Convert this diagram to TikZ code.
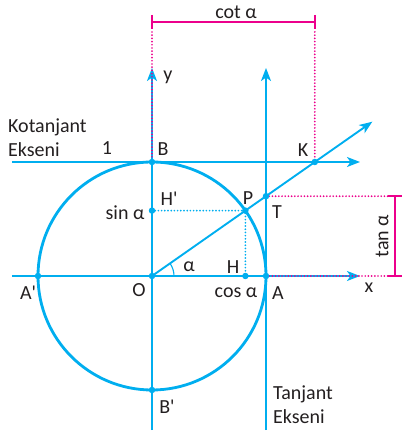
\documentclass[tikz,border=0pt]{standalone}
\usepackage{fontspec}
\setmainfont{Carlito}
\usetikzlibrary{arrows.meta,calc}
\definecolor{axblue}{RGB}{0,174,239}
\definecolor{dimpink}{RGB}{236,0,140}
\definecolor{inkgray}{RGB}{35,31,32}

\begin{document}
\begin{tikzpicture}[
    x=1pt, y=1pt,
    every node/.style={font=\fontsize{20}{24}\selectfont, text=inkgray, inner sep=0pt},
    axis/.style={axblue, line width=1.9pt},
    arrow/.style={axis, -{Stealth[length=13pt, width=10pt, inset=3.5pt]}},
    ring/.style={axblue, line width=2.8pt},
    dot/.style={circle, fill=axblue, inner sep=0pt, minimum size=6.5pt},
    guide/.style={axblue, line width=1.9pt, line cap=round, dash pattern=on 0pt off 3.2pt},
    dim/.style={dimpink, line width=1.9pt},
    pinkdots/.style={dimpink, line width=1.9pt, line cap=round, dash pattern=on 0pt off 3.2pt}
  ]
    \useasboundingbox (-152,-159) rectangle (250,276);

    % points on the unit circle
    \coordinate (O) at (0,0);
    \coordinate (A) at (114,0);
    \coordinate (A') at (-114,0);
    \coordinate (B) at (0,114);
    \coordinate (B') at (0,-114);
    \coordinate (P) at (35:114);
    \coordinate (H) at (P |- O);
    \coordinate (H') at (O |- P);
    \coordinate (T) at (114,79.8);
    \coordinate (K) at (162.8,114);

    % free ends of the axes
    \coordinate (xl) at (-140,0);
    \coordinate (xr) at (208,0);
    \coordinate (cl) at (-140,114);
    \coordinate (cr) at (208,114);
    \coordinate (yt) at (0,208);
    \coordinate (yb) at (0,-154);
    \coordinate (tt) at (114,208);
    \coordinate (tb) at (114,-154);
    \coordinate (ray) at (35:269);

    % dimension marks
    \coordinate (cotL) at (0,254);
    \coordinate (cotR) at (K |- cotL);
    \coordinate (tanT) at (243,79.8);
    \coordinate (tanB) at (243,0);

    \draw[ring] (O) circle (114);
    \draw[arrow] (xl) -- (xr);
    \draw[arrow] (cl) -- (cr);
    \draw[arrow] (yb) -- (yt);
    \draw[arrow] (tb) -- (tt);
    \draw[arrow] (O) -- (ray);

    \draw[pinkdots] (A) -- (236,0);
    \draw[pinkdots] (T) -- (236,79.8);
    \draw[pinkdots] (162.8,244) -- (K);
    \draw[pinkdots] (0,244) -- (B);
    \draw[guide] (H') -- (P) -- (H);
    \draw[axblue, line width=1.1pt] (22,0) arc (0:35:22);

    \draw[dim] (cotL) -- (cotR);
    \draw[dim] ($(cotL)+(0,7)$) -- ($(cotL)-(0,7)$);
    \draw[dim] ($(cotR)+(0,7)$) -- ($(cotR)-(0,7)$);
    \draw[dim] (tanT) -- (tanB);
    \draw[dim] ($(tanT)-(7,0)$) -- ($(tanT)+(7,0)$);
    \draw[dim] ($(tanB)-(7,0)$) -- ($(tanB)+(7,0)$);

    \foreach \p in {O,A,A',B,B',P,H,H',T,K}
      \node[dot] at (\p) {};

    % labels
    \node (lcot) at (84,264) {cot α};
    \node[rotate=90] (ltan) at (230,40) {tan α};
    \node (ly) at (16,199) {y};
    \node (lx) at (217,-12) {x};
    \node[align=left, anchor=west] (lkot) at (-144,138) {Kotanjant\\Ekseni};
    \node[align=left, anchor=west] (ltanj) at (121,-129) {Tanjant\\Ekseni};
    \node (lone) at (-45,128) {1};
    \node (lB) at (11,127) {B};
    \node (lK) at (151,126) {K};
    \node (lH') at (17,77) {H\textquotesingle};
    \node (lsin) at (-27,63) {sin α};
    \node (lP) at (96,78) {P};
    \node (lT) at (125,64) {T};
    \node (lal) at (37,9) {α};
    \node (lH) at (81,9) {H};
    \node (lO) at (-13,-14) {O};
    \node (lcos) at (84,-17) {cos α};
    \node (lA) at (126,-17) {A};
    \node (lA') at (-124,-17) {A\textquotesingle};
    \node (lB') at (15,-131) {B\textquotesingle};
  \end{tikzpicture}
\end{document}
